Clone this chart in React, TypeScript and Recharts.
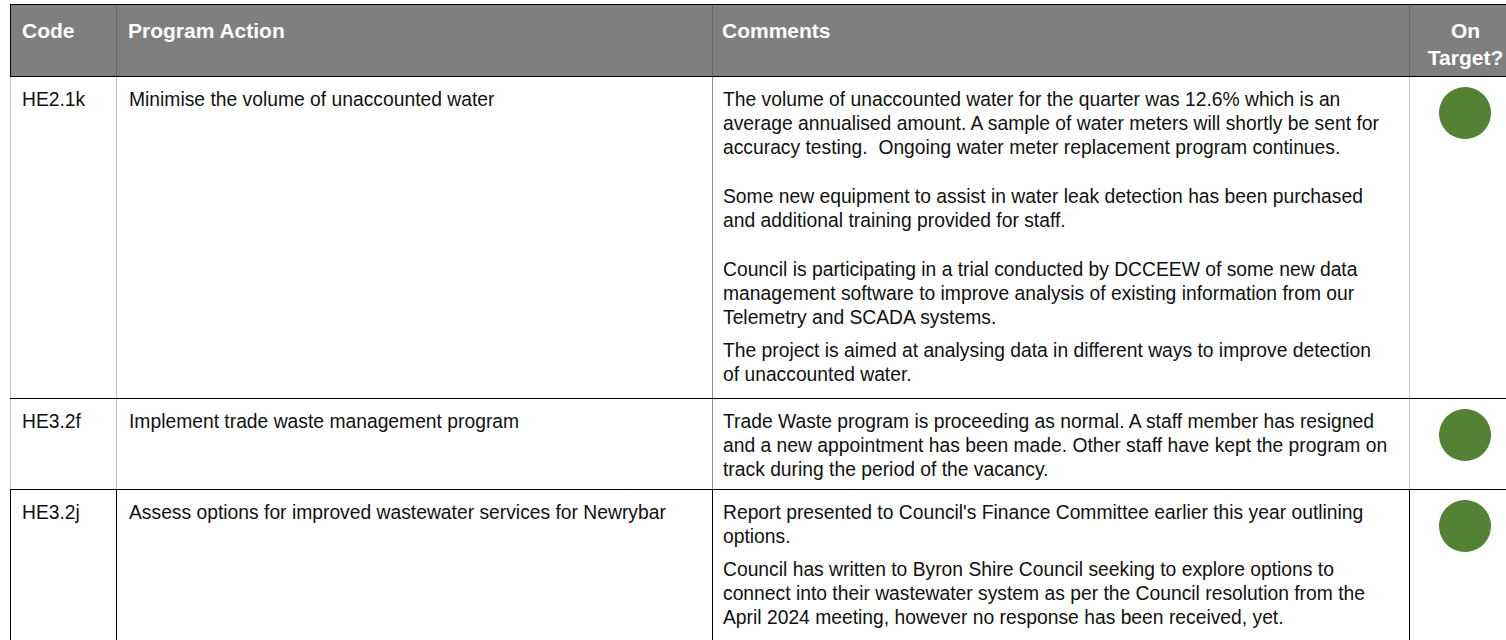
import { PieChart, Pie, Cell } from "recharts";

// table content
const headers = ["Code", "Program Action", "Comments", "On Target?"];

const codes = ["HE2.1k", "HE3.2f", "HE3.2j"];

const actions = [
  "Minimise the volume of unaccounted water",
  "Implement trade waste management program",
  "Assess options for improved wastewater services for Newrybar",
];

// each comment is a list of paragraphs, each paragraph a list of lines ([] = blank paragraph)
const comments: string[][][] = [
  [
    [
      "The volume of unaccounted water for the quarter was 12.6% which is an",
      "average annualised amount. A sample of water meters will shortly be sent for",
      "accuracy testing.  Ongoing water meter replacement program continues.",
    ],
    [],
    [
      "Some new equipment to assist in water leak detection has been purchased",
      "and additional training provided for staff.",
    ],
    [],
    [
      "Council is participating in a trial conducted by DCCEEW of some new data",
      "management software to improve analysis of existing information from our",
      "Telemetry and SCADA systems.",
    ],
    [
      "The project is aimed at analysing data in different ways to improve detection",
      "of unaccounted water.",
    ],
  ],
  [
    [
      "Trade Waste program is proceeding as normal. A staff member has resigned",
      "and a new appointment has been made. Other staff have kept the program on",
      "track during the period of the vacancy.",
    ],
  ],
  [
    [
      "Report presented to Council's Finance Committee earlier this year outlining",
      "options.",
    ],
    [
      "Council has written to Byron Shire Council seeking to explore options to",
      "connect into their wastewater system as per the Council resolution from the",
      "April 2024 meeting, however no response has been received, yet.",
    ],
  ],
];

const onTarget = [1, 1, 1];

const GREEN = "#548235";
const FONT = "Arial, 'Liberation Sans', sans-serif";

// column edges and row heights
const colX = [0, 106, 702, 1399, 1509];
const headerH = 72;
const rowH = [322, 91, 200];

const rowBorders = [
  ["#c4c4c4", "#bdbdbd", "#8c8c8c", "#c8c8c8"],
  ["#c4c4c4", "#bdbdbd", "#8c8c8c", "#c8c8c8"],
  ["#000", "#000", "#000", "#000"],
];

function StatusDot({ value }: { value: number }) {
  const data = [{ name: "On target", value }];
  return (
    <PieChart width={56} height={56} margin={{ top: 0, right: 0, bottom: 0, left: 0 }}>
      <Pie
        data={data}
        dataKey="value"
        cx={28}
        cy={28}
        innerRadius={0}
        outerRadius={26}
        startAngle={90}
        endAngle={-270}
        stroke="none"
        isAnimationActive={false}
      >
        {data.map((d) => (
          <Cell key={d.name} fill={GREEN} />
        ))}
      </Pie>
    </PieChart>
  );
}

export default function App() {
  const rowTops: number[] = [];
  let y = headerH;
  rowH.forEach((h) => {
    rowTops.push(y);
    y += h;
  });

  const cellBox = (c: number) => ({
    position: "absolute" as const,
    left: colX[c],
    width: colX[c + 1] - colX[c],
    top: 0,
    bottom: 0,
    boxSizing: "border-box" as const,
  });

  return (
    <div
      style={{
        position: "fixed",
        left: 0,
        top: 0,
        width: 1506,
        height: 640,
        overflow: "hidden",
        background: "#fff",
        fontFamily: FONT,
      }}
    >
      <div style={{ position: "absolute", left: 10, top: 4, width: 1509 }}>
        {/* header */}
        <div
          style={{
            position: "absolute",
            left: 0,
            top: 0,
            width: 1509,
            height: headerH,
            boxSizing: "border-box",
            borderTop: "1px solid #000",
            background: "#7f7f7f",
          }}
        >
          {headers.map((h, c) => (
            <div
              key={h}
              style={{
                ...cellBox(c),
                borderLeft: c === 0 ? "1px solid #000" : "1px solid #666",
                padding: c === 3 ? "12px 4px 0 6px" : c === 2 ? "12px 12px 0 9px" : "12px 12px 0 11px",
                color: "#fff",
                fontWeight: "bold",
                fontSize: 21,
                lineHeight: "27px",
                textAlign: c === 3 ? "center" : "left",
              }}
            >
              {h}
            </div>
          ))}
        </div>

        {/* body rows */}
        {codes.map((code, r) => (
          <div
            key={code}
            style={{
              position: "absolute",
              left: 0,
              top: rowTops[r],
              width: 1509,
              height: rowH[r],
              boxSizing: "border-box",
              borderTop: "1px solid #000",
              color: "#111",
              fontSize: 19.3,
              lineHeight: "24px",
            }}
          >
            <div style={{ ...cellBox(0), borderLeft: `1px solid ${rowBorders[r][0]}`, padding: "11px 0 0 11px" }}>
              {code}
            </div>
            <div style={{ ...cellBox(1), borderLeft: `1px solid ${rowBorders[r][1]}`, padding: "11px 0 0 12px" }}>
              {actions[r]}
            </div>
            <div style={{ ...cellBox(2), borderLeft: `1px solid ${rowBorders[r][2]}`, padding: "11px 0 0 10px" }}>
              {comments[r].map((para, p) =>
                para.length === 0 ? (
                  <div key={p} style={{ height: 16 }} />
                ) : (
                  <div key={p} style={{ marginBottom: 9 }}>
                    {para.map((line, i) => (
                      <div key={i} style={{ whiteSpace: "pre" }}>
                        {line}
                      </div>
                    ))}
                  </div>
                )
              )}
            </div>
            <div
              style={{
                ...cellBox(3),
                borderLeft: `1px solid ${rowBorders[r][3]}`,
                paddingTop: 8,
                display: "flex",
                justifyContent: "center",
                alignItems: "flex-start",
              }}
            >
              <StatusDot value={onTarget[r]} />
            </div>
          </div>
        ))}
      </div>
    </div>
  );
}
